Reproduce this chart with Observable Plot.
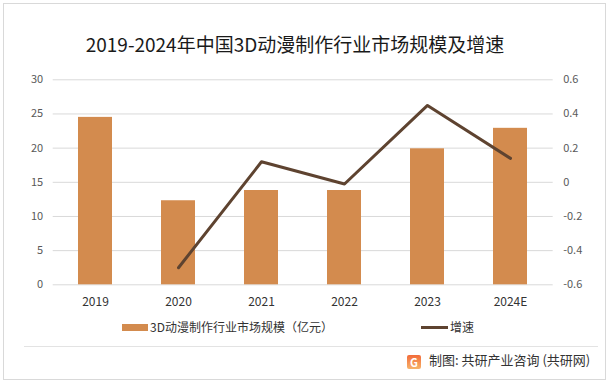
<!DOCTYPE html>
<html>
<head>
<meta charset="utf-8">
<script src="https://cdn.jsdelivr.net/npm/d3@7"></script>
<script src="https://cdn.jsdelivr.net/npm/@observablehq/plot@0.6"></script>
<style>
  html, body { margin: 0; padding: 0; background: #fff; }
  body { width: 615px; height: 385px; position: relative; overflow: hidden;
         font-family: "Noto Sans CJK SC", "Noto Sans", sans-serif; }
  #frame { position: absolute; left: 3px; top: 3px; width: 603px; height: 377px;
           border: 1px solid #d9d9d9; box-sizing: border-box; }
  #title { position: absolute; left: 0; top: 31px; width: 590px; text-align: center;
           font-size: 19px; color: #1a1a1a; line-height: 26px; white-space: nowrap; }
  #chart { position: absolute; left: 0; top: 60px; }
  .leg { position: absolute; font-size: 12px; color: #333; line-height: 16px; white-space: nowrap; }
  #sep { position: absolute; left: 24px; top: 346px; width: 574px; height: 1px; background: #e3e3e3; }
  #source { position: absolute; left: 407px; top: 351px; font-size: 13px; color: #333;
            line-height: 18px; white-space: nowrap; }
  #logo { display: inline-block; width: 14px; height: 14px; margin-right: 8px; vertical-align: -2px;
          color: #fff; font-weight: bold; font-size: 11px; line-height: 14px; text-align: center;
          border-radius: 2px; background: linear-gradient(180deg, #f26b3a, #f7b36a); }
</style>
</head>
<body>
<div id="frame"></div>
<div id="title">2019-2024年中国3D动漫制作行业市场规模及增速</div>
<div id="chart"></div>
<div id="legend"></div>
<div id="sep"></div>
<div id="source"><span id="logo">G</span>制图: 共研产业咨询 (共研网)</div>
<script>
// Data
const years = ["2019", "2020", "2021", "2022", "2023", "2024E"];
const marketSize = [24.5, 12.3, 13.8, 13.8, 19.9, 22.9];
const growthRate = [null, -0.50, 0.12, -0.01, 0.45, 0.14];
const leftTicks = [0, 5, 10, 15, 20, 25, 30];
const rightTicks = [-0.6, -0.4, -0.2, 0, 0.2, 0.4, 0.6];
const seriesNames = ["3D动漫制作行业市场规模（亿元）", "增速"];
const colors = ["#D38B4E", "#5E4330"];

const leftMax = 30, rMin = -0.6, rMax = 0.6;
const toLeft = g => (g - rMin) / (rMax - rMin) * leftMax;
const fromLeft = v => v / leftMax * (rMax - rMin) + rMin;

const bars = years.map((y, i) => ({year: y, size: marketSize[i]}));
const growth = years.map((y, i) => ({year: y, g: growthRate[i]})).filter(d => d.g != null);

const fmtR = v => String(Math.round(v * 10) / 10 + 0);

const chart = Plot.plot({
  width: 615,
  height: 250,
  marginTop: 19.3,
  marginBottom: 25.7,
  marginLeft: 52.7,
  marginRight: 62.3,
  style: {fontFamily: '"Noto Sans CJK SC", "Noto Sans", sans-serif', fontSize: "11px", color: "#595959", background: "transparent"},
  x: {domain: years, paddingInner: 0.59, paddingOuter: 0.295, label: null},
  y: {domain: [0, leftMax], label: null},
  marks: [
    Plot.gridY(leftTicks, {stroke: "#d9d9d9", strokeOpacity: 1}),
    Plot.barY(bars, {x: "year", y: "size", fill: colors[0]}),
    Plot.line(growth, {x: "year", y: d => toLeft(d.g), stroke: colors[1], strokeWidth: 3}),
    Plot.axisY({ticks: leftTicks, tickSize: 0, tickPadding: 10, label: null, fill: "#595959"}),
    Plot.axisY({anchor: "right", ticks: rightTicks.map(toLeft), tickFormat: d => fmtR(fromLeft(d)),
                tickSize: 0, tickPadding: 10, label: null, fill: "#595959"}),
    Plot.axisX({tickSize: 0, tickPadding: 13, label: null, fill: "#333", fontSize: 12})
  ]
});
document.getElementById("chart").appendChild(chart);

// Legend
const legend = document.getElementById("legend");
legend.innerHTML = `
  <div style="position:absolute;left:122px;top:324px;width:26px;height:7px;background:${colors[0]}"></div>
  <div class="leg" style="left:150px;top:319px">${seriesNames[0]}</div>
  <div style="position:absolute;left:421px;top:326px;width:27px;height:3px;background:${colors[1]}"></div>
  <div class="leg" style="left:450px;top:319px">${seriesNames[1]}</div>
`;
</script>
</body>
</html>
